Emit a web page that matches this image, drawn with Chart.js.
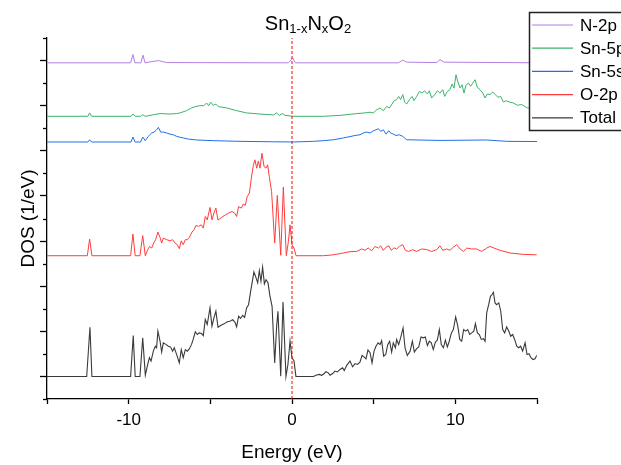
<!DOCTYPE html>
<html>
<head>
<meta charset="utf-8">
<script src="https://cdn.jsdelivr.net/npm/chart.js@4.4.1/dist/chart.umd.min.js"></script>
<style>
  body { margin: 0; background: #fff; }
  canvas { display: block; }
</style>
</head>
<body>
<canvas id="dos" width="621" height="465"></canvas>
<script>
// energy (eV) and DOS values, [E, dos] per point (dos above each curve's baseline)
const totalPts = [
  [-15,0],[-12.57,0],[-12.37,2.18],[-12.25,0],[-9.88,0],[-9.72,1.81],[-9.6,0],[-9.31,0],[-9.14,1.71],
  [-8.98,0.06],[-8.86,0.46],[-8.73,0.83],[-8.63,0.68],[-8.49,1.12],[-8.37,1.34],[-8.29,1.27],[-8.21,2.01],
  [-8.08,1.57],[-7.98,1.08],[-7.88,1.49],[-7.72,1.42],[-7.57,1.34],[-7.43,1.30],[-7.31,1.12],[-7.21,1.27],
  [-7.06,0.97],[-6.90,0.60],[-6.78,1.19],[-6.66,0.83],[-6.53,1.19],[-6.41,1.12],[-6.29,1.22],[-6.15,1.42],
  [-6.05,1.64],[-5.92,1.98],[-5.80,1.86],[-5.68,1.93],[-5.54,1.90],[-5.43,1.81],[-5.31,2.52],[-5.19,2.30],
  [-5.02,3.04],[-4.90,2.23],[-4.78,2.60],[-4.66,2.89],[-4.53,2.18],[-4.37,2.26],[-4.16,2.33],[-3.96,2.42],
  [-3.80,2.45],[-3.63,2.52],[-3.49,2.40],[-3.39,2.20],[-3.27,2.67],[-3.15,2.57],[-3.02,2.71],[-2.90,2.62],
  [-2.78,3.04],[-2.66,3.18],[-2.53,3.78],[-2.41,4.29],[-2.33,4.63],[-2.21,4.39],[-2.10,4.15],[-2.00,4.69],
  [-1.90,4.22],[-1.80,4.84],[-1.69,4.10],[-1.59,4.29],[-1.47,4.15],[-1.35,3.56],[-1.22,3.11],[-1.06,0.60],
  [-0.94,2.23],[-0.86,2.89],[-0.69,0.01],[-0.55,3.30],[-0.37,0],[-0.25,0.53],[-0.12,1.57],[0.0,0.83],
  [0.12,0.70],[0.24,0],[1.31,0],[1.51,0.06],[1.67,0.09],[1.82,0.05],[1.96,0.12],[2.08,0.21],[2.22,0.16],
  [2.33,0.05],[2.49,0.13],[2.63,0.24],[2.78,0.20],[2.94,0.31],[3.10,0.38],[3.20,0.26],[3.35,0.49],
  [3.55,0.68],[3.71,0.43],[3.86,0.57],[4.00,0.53],[4.16,0.63],[4.29,0.93],[4.41,0.87],[4.53,0.78],
  [4.65,1.17],[4.78,1.05],[4.90,0.60],[5.02,1.11],[5.14,1.34],[5.27,1.49],[5.39,1.41],[5.49,1.59],
  [5.61,0.90],[5.74,0.97],[5.86,1.41],[5.98,1.56],[6.10,1.08],[6.20,1.49],[6.33,1.27],[6.41,1.64],
  [6.53,1.41],[6.65,1.71],[6.80,2.15],[6.92,1.27],[7.06,0.93],[7.23,1.12],[7.37,1.56],[7.49,1.08],
  [7.63,1.23],[7.76,1.31],[7.90,1.75],[8.04,1.71],[8.16,1.75],[8.29,1.37],[8.41,1.56],[8.53,1.49],
  [8.65,1.19],[8.78,1.52],[8.90,1.61],[9.02,2.08],[9.14,1.41],[9.27,1.27],[9.39,1.61],[9.51,1.31],
  [9.63,1.56],[9.76,1.93],[9.88,2.08],[10.02,2.64],[10.15,2.23],[10.27,1.64],[10.39,1.56],[10.51,2.08],
  [10.63,2.01],[10.76,2.08],[10.88,1.86],[11.00,1.93],[11.13,2.01],[11.23,2.34],[11.35,1.93],[11.47,1.86],
  [11.59,1.64],[11.72,1.67],[11.82,1.56],[11.92,2.82],[12.04,3.18],[12.15,3.55],[12.25,3.63],[12.33,3.73],
  [12.43,3.26],[12.53,3.18],[12.66,3.26],[12.78,2.89],[12.90,2.08],[13.02,1.93],[13.14,2.19],[13.27,2.01],
  [13.39,1.78],[13.51,1.86],[13.63,1.64],[13.76,1.34],[13.88,1.27],[14.00,1.34],[14.12,1.12],[14.27,1.49],
  [14.39,0.97],[14.51,1.01],[14.63,0.83],[14.76,0.75],[14.88,0.78],[14.98,0.93]
];

const o2pPts = [
  [-15,0],[-12.53,0],[-12.39,0.74],[-12.25,0],[-9.88,0],[-9.74,0.96],[-9.6,0],[-9.31,0],[-9.14,0.89],
  [-8.98,0],[-8.86,0.22],[-8.73,0.41],[-8.59,0.34],[-8.47,0.56],[-8.35,0.71],[-8.21,1.05],[-8.08,0.81],
  [-7.98,0.56],[-7.88,0.78],[-7.67,0.71],[-7.47,0.66],[-7.31,0.71],[-7.16,0.56],[-7.02,0.49],[-6.90,0.31],
  [-6.78,0.66],[-6.66,0.49],[-6.53,0.71],[-6.41,0.71],[-6.29,0.81],[-6.12,1.05],[-6.00,1.15],[-5.88,1.34],
  [-5.72,1.30],[-5.56,1.37],[-5.43,1.22],[-5.31,1.74],[-5.19,1.59],[-5.02,2.14],[-4.90,1.59],[-4.78,1.89],
  [-4.66,2.11],[-4.53,1.58],[-4.31,1.70],[-4.08,1.81],[-3.88,1.89],[-3.67,1.96],[-3.51,1.89],[-3.39,1.74],
  [-3.27,2.18],[-3.10,2.11],[-2.98,2.29],[-2.86,2.23],[-2.74,2.63],[-2.61,2.77],[-2.49,3.44],[-2.37,4.00],
  [-2.27,4.25],[-2.16,3.88],[-2.06,4.20],[-1.96,3.88],[-1.84,4.54],[-1.71,3.95],[-1.59,3.88],[-1.49,4.03],
  [-1.39,3.51],[-1.25,2.85],[-1.06,0.56],[-0.90,2.67],[-0.69,0.02],[-0.53,3.04],[-0.35,0],[-0.22,0.63],
  [-0.12,1.37],[0.0,0.49],[0.12,0.34],[0.25,0],[1.92,0],[2.53,0.04],[3.14,0.12],[3.55,0.18],[3.96,0.19],
  [4.27,0.30],[4.47,0.24],[4.67,0.34],[4.88,0.22],[5.08,0.41],[5.29,0.34],[5.43,0.44],[5.59,0.24],
  [5.76,0.38],[5.92,0.44],[6.08,0.24],[6.25,0.35],[6.41,0.30],[6.57,0.41],[6.78,0.49],[6.94,0.24],
  [7.14,0.19],[7.39,0.27],[7.63,0.19],[7.94,0.30],[8.25,0.27],[8.55,0.19],[8.86,0.27],[9.06,0.44],
  [9.23,0.24],[9.47,0.30],[9.67,0.24],[9.88,0.38],[10.08,0.49],[10.29,0.30],[10.49,0.19],[10.70,0.34],
  [11.00,0.30],[11.31,0.30],[11.61,0.19],[11.92,0.34],[12.12,0.41],[12.37,0.34],[12.73,0.24],[13.35,0.12],
  [14.16,0.06],[14.98,0.04]
];

const sn5sPts = [
  [-15,0],[-12.5,0],[-12.39,0.10],[-12.27,0],[-9.86,0],[-9.74,0.22],[-9.6,0],[-9.27,0],[-9.14,0.22],
  [-8.98,0.06],[-8.80,0.25],[-8.59,0.40],[-8.45,0.44],[-8.29,0.54],[-8.18,0.65],[-8.04,0.44],[-7.88,0.44],
  [-7.67,0.40],[-7.47,0.35],[-7.27,0.32],[-7.06,0.25],[-6.86,0.21],[-6.65,0.18],[-6.35,0.13],[-5.84,0.09],
  [-4.82,0.06],[-3.18,0.03],[-1.14,0.01],[0.08,0],[1.31,0.03],[1.92,0.06],[2.53,0.10],[3.14,0.18],
  [3.55,0.24],[3.86,0.29],[4.16,0.32],[4.37,0.40],[4.57,0.44],[4.78,0.40],[4.98,0.50],[5.14,0.54],
  [5.29,0.59],[5.43,0.47],[5.59,0.54],[5.76,0.35],[5.92,0.50],[6.04,0.40],[6.20,0.35],[6.37,0.29],
  [6.57,0.32],[6.78,0.25],[7.02,0.10],[9.06,0.07],[11.92,0.09],[13.14,0.03],[15,0.02]
];

const sn5pPts = [
  [-15,0],[-12.5,0],[-12.39,0.15],[-12.27,0],[-9.86,0],[-9.74,0.10],[-9.6,0],[-9.27,0],[-9.14,0.07],
  [-8.98,0],[-8.49,0.07],[-8.08,0.12],[-7.47,0.10],[-7.06,0.12],[-6.86,0.15],[-6.45,0.25],[-6.15,0.37],
  [-5.88,0.44],[-5.64,0.47],[-5.39,0.47],[-5.23,0.59],[-5.10,0.47],[-4.98,0.63],[-4.82,0.49],[-4.66,0.54],
  [-4.51,0.43],[-4.00,0.37],[-3.39,0.25],[-2.78,0.15],[-1.96,0.10],[-1.14,0.06],[-0.94,0.15],[-0.78,0.04],
  [-0.57,0.12],[-0.43,0.04],[0.08,0],[1.92,0],[2.94,0.04],[3.96,0.12],[4.47,0.15],[4.78,0.18],[4.98,0.15],
  [5.19,0.29],[5.39,0.37],[5.59,0.25],[5.80,0.44],[5.96,0.37],[6.12,0.54],[6.25,0.69],[6.41,0.74],
  [6.53,0.88],[6.65,0.74],[6.78,0.96],[6.90,0.63],[7.02,0.54],[7.19,0.74],[7.35,0.88],[7.47,0.69],
  [7.63,0.88],[7.80,1.10],[7.96,1.03],[8.12,1.13],[8.29,0.99],[8.41,1.13],[8.55,0.81],[8.74,0.96],
  [8.90,1.13],[9.06,1.03],[9.23,1.18],[9.35,0.88],[9.51,1.10],[9.67,1.18],[9.80,1.43],[9.92,1.25],
  [10.04,1.84],[10.16,1.52],[10.29,1.25],[10.41,1.40],[10.53,1.03],[10.65,1.37],[10.80,1.47],[10.94,1.33],
  [11.06,1.47],[11.21,1.62],[11.35,1.28],[11.51,1.18],[11.68,1.03],[11.82,0.81],[11.96,0.99],[12.12,0.96],
  [12.29,1.08],[12.45,0.96],[12.61,0.84],[12.78,0.88],[12.94,0.63],[13.10,0.69],[13.31,0.63],[13.55,0.59],
  [13.80,0.49],[14.06,0.52],[14.27,0.43],[14.41,0.37],[14.7,0.33],[15,0.30]
];

const n2pPts = [
  [-15,0],[-9.88,0],[-9.74,0.37],[-9.62,0],[-9.25,0],[-9.12,0.34],[-9.0,0],[-8.69,0.04],[-8.18,0.10],
  [-7.67,0.01],[-0.22,0],[0.04,0.22],[0.20,0],[6.51,0],[6.78,0.12],[7.02,0.03],[8.86,0.01],[9.06,0.14],
  [9.31,0.03],[15,0]
];

const labels = ["N-2p", "Sn-5p", "Sn-5s", "O-2p", "Total"];
const series = [n2pPts, sn5pPts, sn5sPts, o2pPts, totalPts];
const offsets = [14.9, 12.53, 11.39, 6.35, 1.0];   // vertical stacking of the curves
const colors = ["#b27fe3", "#3cb26c", "#1f6fe8", "#ff3c3c", "#3a3a3a"];
const fermiLine = [[0, 0], [0, 16]];
const xTicks = [-15, -10, -5, 0, 5, 10, 15];

const datasets = series.map((pts, i) => ({
  label: labels[i],
  data: pts.map(p => ({ x: p[0], y: p[1] + offsets[i] })),
  borderColor: colors[i],
  borderWidth: i === 4 ? 1.1 : 1,
  pointRadius: 0,
  tension: 0,
  fill: false
}));
datasets.push({
  label: "",
  data: fermiLine.map(p => ({ x: p[0], y: p[1] })),
  borderColor: "#ff0000",
  borderWidth: 1,
  borderDash: [3, 2],
  pointRadius: 0,
  order: -1
});

// minor ticks on the y axis, legend box and the subscripted title
const extras = {
  id: "extras",
  afterDraw(chart) {
    const ctx = chart.ctx;
    const ys = chart.scales.y;
    ctx.save();
    ctx.strokeStyle = "#000";
    ctx.lineWidth = 1.3;
    for (let v = 0; v <= 16; v += 2) {
      const y = Math.round(ys.getPixelForValue(v)) + 0.5;
      ctx.beginPath();
      ctx.moveTo(ys.right - 4, y);
      ctx.lineTo(ys.right, y);
      ctx.stroke();
    }

    // legend
    ctx.fillStyle = "#fff";
    ctx.fillRect(529.5, 12.5, 130, 118);
    ctx.strokeStyle = "#222";
    ctx.lineWidth = 1.5;
    ctx.strokeRect(529.5, 12.5, 130, 118);
    ctx.font = "17px 'Liberation Sans', Arial, sans-serif";
    ctx.textBaseline = "middle";
    labels.forEach((lab, i) => {
      const y = 25 + i * 23.2;
      ctx.strokeStyle = colors[i];
      ctx.lineWidth = 1.2;
      ctx.beginPath();
      ctx.moveTo(532, y);
      ctx.lineTo(573, y);
      ctx.stroke();
      ctx.fillStyle = "#000";
      ctx.fillText(lab, 580, y + 1);
    });

    // title Sn1-xNxO2
    const parts = [["Sn", false], ["1-x", true], ["N", false], ["x", true], ["O", false], ["2", true]];
    const big = "20px 'Liberation Sans', Arial, sans-serif";
    const small = "13px 'Liberation Sans', Arial, sans-serif";
    ctx.textBaseline = "alphabetic";
    let w = 0;
    parts.forEach(p => { ctx.font = p[1] ? small : big; w += ctx.measureText(p[0]).width; });
    let x = 308 - w / 2;
    parts.forEach(p => {
      ctx.font = p[1] ? small : big;
      ctx.fillText(p[0], x, p[1] ? 33 : 30);
      x += ctx.measureText(p[0]).width;
    });
    ctx.restore();
  }
};

new Chart(document.getElementById("dos"), {
  type: "line",
  data: { datasets },
  plugins: [extras],
  options: {
    responsive: false,
    animation: false,
    devicePixelRatio: 1,
    layout: { padding: { top: 38, right: 84, left: 0, bottom: 0 } },
    plugins: { legend: { display: false }, tooltip: { enabled: false } },
    scales: {
      x: {
        type: "linear",
        min: -15,
        max: 15,
        afterBuildTicks: s => { s.ticks = xTicks.map(v => ({ value: v })); },
        afterFit: s => { s.height = 66; },
        border: { display: true, color: "#000", width: 1.3 },
        grid: { drawOnChartArea: false, drawTicks: true, tickLength: 5, tickColor: "#000", tickWidth: 1.3 },
        ticks: {
          color: "#000",
          padding: 6,
          font: { family: "'Liberation Sans', Arial, sans-serif", size: 17 },
          callback: v => (v % 10 === 0 ? String(v) : "")
        },
        title: {
          display: true,
          text: "Energy (eV)",
          color: "#000",
          font: { family: "'Liberation Sans', Arial, sans-serif", size: 19 },
          padding: { top: 0, bottom: 1 }
        }
      },
      y: {
        type: "linear",
        min: 0,
        max: 16,
        afterBuildTicks: s => {
          const t = [];
          for (let v = 1; v <= 15; v += 2) t.push({ value: v });
          s.ticks = t;
        },
        afterFit: s => { s.width = 47; },
        border: { display: true, color: "#000", width: 1.3 },
        grid: { drawOnChartArea: false, drawTicks: true, tickLength: 7, tickColor: "#000", tickWidth: 1.3 },
        ticks: { display: false },
        title: {
          display: true,
          text: "DOS (1/eV)",
          color: "#000",
          font: { family: "'Liberation Sans', Arial, sans-serif", size: 19 },
          padding: { top: 17, bottom: 0 }
        }
      }
    }
  }
});
</script>
</body>
</html>
